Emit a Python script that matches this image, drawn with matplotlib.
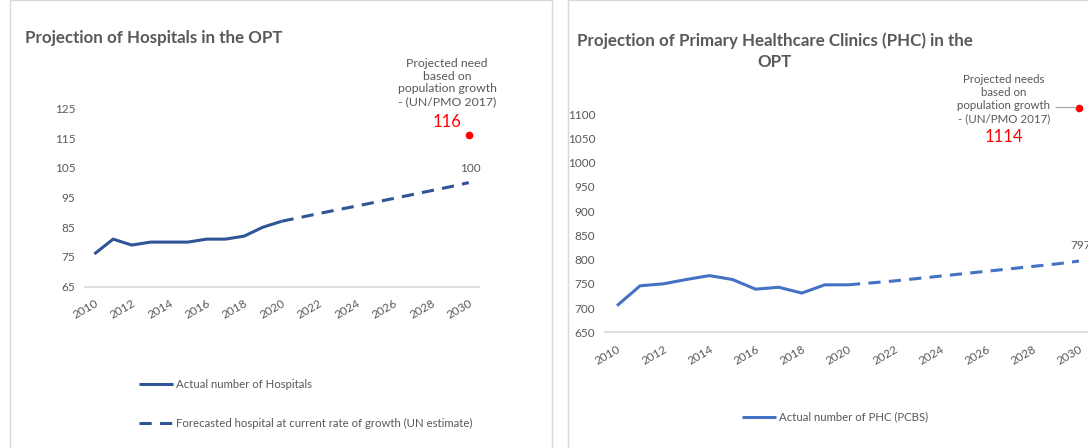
import matplotlib
matplotlib.use("Agg")
import matplotlib.pyplot as plt
from matplotlib.patches import Rectangle

plt.rcParams['font.family'] = ['Lato', 'DejaVu Sans']

# hospitals (left chart)
years_actual = [2010, 2011, 2012, 2013, 2014, 2015, 2016, 2017, 2018, 2019, 2020]
hospitals_actual = [76, 81, 79, 80, 80, 80, 81, 81, 82, 85, 87]
years_forecast = [2020, 2021, 2022, 2023, 2024, 2025, 2026, 2027, 2028, 2029, 2030]
hospitals_forecast = [87, 88.3, 89.6, 90.9, 92.1, 93.4, 94.7, 96, 97.3, 98.6, 100]
hospitals_need = 116

# primary healthcare clinics (right chart)
phc_actual = [705, 746, 750, 759, 767, 759, 739, 743, 731, 748, 748]
phc_forecast = [748, 752, 756, 761, 766, 771, 776, 781, 786, 791, 797]
phc_need = 1114

tick_years = list(range(2010, 2031, 2))

GRAY = '#595959'
BORDER = '#D9D9D9'
DARK_BLUE = '#2F5597'
BLUE = '#4472C4'
W, H = 1088, 448


def fx(px):
    return px / W


def fy(py):
    return 1 - py / H


def style_axis(ax, yticks):
    for s in ['top', 'right', 'left']:
        ax.spines[s].set_visible(False)
    ax.spines['bottom'].set_color(BORDER)
    ax.spines['bottom'].set_linewidth(1.2)
    ax.set_yticks(yticks)
    ax.set_xticks(tick_years)
    ax.tick_params(axis='both', length=0, labelsize=8.5, labelcolor=GRAY)
    ax.tick_params(axis='y', pad=7)
    ax.tick_params(axis='x', pad=8)
    for lab in ax.get_xticklabels():
        lab.set_rotation(30)
        lab.set_ha('right')
        lab.set_va('top')
        lab.set_rotation_mode('anchor')
    ax.set_xlim(2009.5, 2030.55)
    ax.patch.set_alpha(0)


fig = plt.figure(figsize=(W / 100, H / 100), dpi=100)

# panel frames
fig.patches.append(Rectangle((fx(10), fy(460)), fx(542), 460 / H, transform=fig.transFigure,
                             fill=False, edgecolor=BORDER, linewidth=1))
fig.patches.append(Rectangle((fx(568), fy(460)), fx(540), 460 / H, transform=fig.transFigure,
                             fill=False, edgecolor=BORDER, linewidth=1))

# ---- left: hospitals ----
ax1 = fig.add_axes([fx(85), fy(286.7), fx(479 - 85), (286.7 - 108.3) / H])
l1, = ax1.plot(years_actual, hospitals_actual, color=DARK_BLUE, lw=2.2,
               solid_capstyle='butt', solid_joinstyle='round')
l2, = ax1.plot(years_forecast, hospitals_forecast, color=DARK_BLUE, lw=2.2,
               dashes=(4, 2.7))
ax1.plot([2030], [hospitals_need], 'o', color='red', ms=4.5, clip_on=False)
ax1.set_ylim(65, 125)
style_axis(ax1, list(range(65, 126, 10)))
ax1.annotate(f'{hospitals_forecast[-1]:.0f}', (2030, hospitals_forecast[-1]),
             xytext=(1, 10), textcoords='offset points', ha='center', va='center',
             fontsize=8.5, color=GRAY)
ax1.annotate('Projected need\nbased on\npopulation growth\n- (UN/PMO 2017)',
             (2030, hospitals_need), xytext=(-15.5, 37.8), textcoords='offset points',
             ha='center', va='center', fontsize=8.8, color=GRAY, linespacing=1.2)
ax1.annotate(str(hospitals_need), (2030, hospitals_need), xytext=(-15.5, 9.4),
             textcoords='offset points', ha='center', va='center',
             fontsize=12, color='red')
fig.text(fx(25), fy(37.7), 'Projection of Hospitals in the OPT', fontsize=12.2,
         fontweight='bold', color=GRAY, ha='left', va='center')
fig.legend([l1, l2], ['Actual number of Hospitals',
                      'Forecasted hospital at current rate of growth (UN estimate)'],
           loc='center left', bbox_to_anchor=(fx(139), fy(404)), frameon=False,
           fontsize=8.2, labelcolor=GRAY, handlelength=3.0, handletextpad=0.25,
           labelspacing=2.5, borderpad=0, borderaxespad=0)

# ---- right: PHC ----
ax2 = fig.add_axes([fx(605), fy(332.3), fx(1090.5 - 605), (332.3 - 114.3) / H])
l3, = ax2.plot(years_actual, phc_actual, color=BLUE, lw=2.2,
               solid_capstyle='butt', solid_joinstyle='round')
ax2.plot(years_forecast, phc_forecast, color=BLUE, lw=2.2, dashes=(4, 2.7))
ax2.plot([2030], [phc_need], 'o', color='red', ms=4.5, clip_on=False)
ax2.set_ylim(650, 1100)
style_axis(ax2, list(range(650, 1101, 50)))
ax2.set_xlim(2009.48, 2030.5)
ax2.annotate(str(phc_forecast[-1]), (2030, phc_forecast[-1]),
             xytext=(1, 11.5), textcoords='offset points', ha='center', va='center',
             fontsize=8.5, color=GRAY, annotation_clip=False)
ax2.annotate('Projected needs\nbased on\npopulation growth\n- (UN/PMO 2017)',
             (2030, phc_need), xytext=(-54, 6.1), textcoords='offset points',
             ha='center', va='center', fontsize=8.3, color=GRAY, linespacing=1.25,
             annotation_clip=False)
ax2.annotate('', (2030, phc_need), xytext=(-16.5, 0), textcoords='offset points',
             arrowprops=dict(arrowstyle='-', color='#A6A6A6', lw=0.8, shrinkA=0, shrinkB=2),
             annotation_clip=False)
ax2.annotate(str(phc_need), (2030, phc_need), xytext=(-54, -20.9),
             textcoords='offset points', ha='center', va='center',
             fontsize=12, color='red', annotation_clip=False)
fig.text(fx(775), fy(51), 'Projection of Primary Healthcare Clinics (PHC) in the\nOPT',
         fontsize=12.2, fontweight='bold', color=GRAY, ha='center', va='center',
         linespacing=1.4)
fig.legend([l3], ['Actual number of PHC (PCBS)'], loc='center left',
           bbox_to_anchor=(fx(742), fy(417)), frameon=False, fontsize=8.2,
           labelcolor=GRAY, handlelength=3.0, handletextpad=0.25,
           borderpad=0, borderaxespad=0)

fig.savefig('out.png', dpi=100)
